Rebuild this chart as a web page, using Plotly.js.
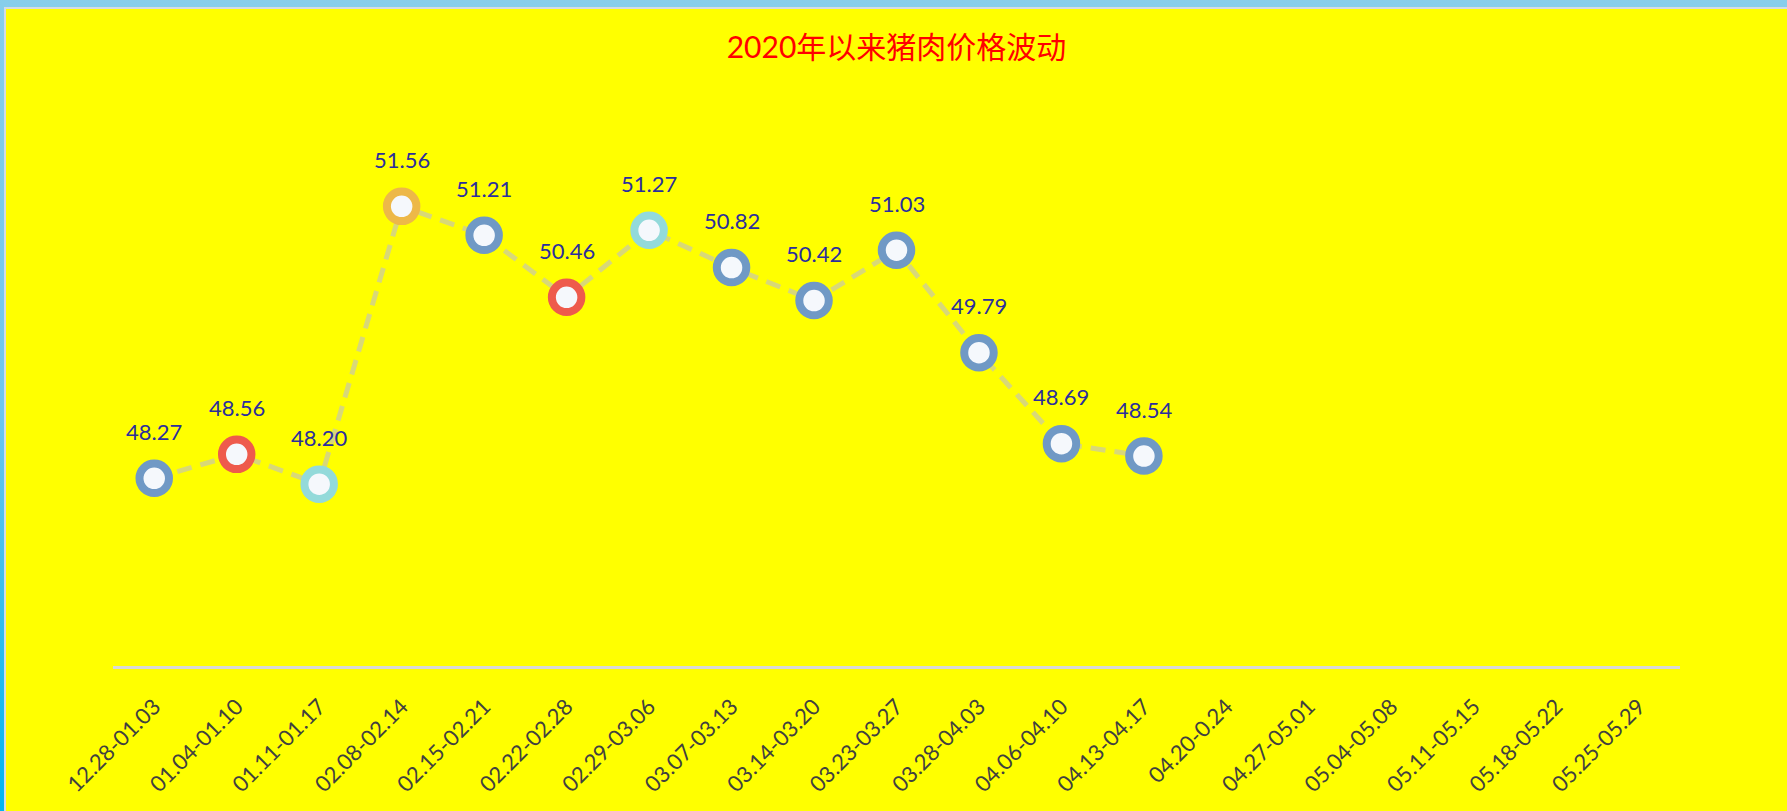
<!DOCTYPE html>
<html>
<head>
<meta charset="utf-8">
<script src="https://cdn.plot.ly/plotly-3.0.1.min.js"></script>
<style>
  html, body { margin: 0; padding: 0; width: 1787px; height: 811px; overflow: hidden; }
  body { background: linear-gradient(to bottom, #87CEEB 0%, #6FC6EE 50%, #00B4F0 100%); position: relative; }
  #chart {
    position: absolute; left: 4px; top: 7px;
    width: 1781px; height: 802px;
    border-top: 2px solid #D3DCE4; border-left: 2px solid #D3DCE4;
  }
</style>
</head>
<body>
<div id="chart"></div>
<script>
// week labels (19 weeks, only the first 13 have prices)
const weeks = [
  '12.28-01.03', '01.04-01.10', '01.11-01.17', '02.08-02.14', '02.15-02.21',
  '02.22-02.28', '02.29-03.06', '03.07-03.13', '03.14-03.20', '03.23-03.27',
  '03.28-04.03', '04.06-04.10', '04.13-04.17', '04.20-0.24', '04.27-05.01',
  '05.04-05.08', '05.11-05.15', '05.18-05.22', '05.25-05.29'
];
// pork price per week
const prices = [48.27, 48.56, 48.20, 51.56, 51.21, 50.46, 51.27, 50.82, 50.42, 51.03, 49.79, 48.69, 48.54];
const pointColors = ['#7099C5', '#EE5B4C', '#93DADA', '#EDB848', '#7099C5', '#EE5B4C', '#93DADA',
                     '#7099C5', '#7099C5', '#7099C5', '#7099C5', '#7099C5', '#7099C5'];

const xs = weeks.slice(0, prices.length);

const trace = {
  x: xs,
  y: prices,
  type: 'scatter',
  mode: 'lines+markers',
  line: { color: '#D8D878', width: 5, dash: '15px,9px' },
  marker: {
    size: 29.5,
    color: '#F5F8FC',
    line: { color: pointColors, width: 8 }
  },
  hoverinfo: 'x+y'
};

// value labels above each point
const labels = xs.map((w, i) => ({
  x: w, y: prices[i],
  text: prices[i].toFixed(2),
  showarrow: false,
  yshift: 47,
  font: { family: 'Lato, "Open Sans", sans-serif', size: 22, color: '#2B2E9E' }
}));

const layout = {
  width: 1781,
  height: 802,
  paper_bgcolor: '#FFFF00',
  plot_bgcolor: '#FFFF00',
  margin: { l: 107, r: 107, t: 161, b: 145, pad: 0 },
  title: {
    text: '2020年以来猪肉价格波动',
    font: { family: 'Lato, "Noto Sans CJK SC", sans-serif', size: 30, color: '#FF0000' },
    x: 0.5, xanchor: 'center',
    y: 0.952, yref: 'container', yanchor: 'middle'
  },
  xaxis: {
    type: 'category',
    categoryorder: 'array',
    categoryarray: weeks,
    tickvals: weeks,
    range: [-0.5, weeks.length - 0.5],
    showline: true,
    linecolor: '#D9D9D9',
    linewidth: 3,
    showgrid: false,
    zeroline: false,
    ticks: '',
    tickangle: -45,
    ticklabelstandoff: 16,
    tickfont: { family: 'Lato, "Open Sans", sans-serif', size: 22, color: '#404040' },
    fixedrange: true
  },
  yaxis: {
    range: [46, 52],
    showgrid: false,
    zeroline: false,
    showline: false,
    showticklabels: false,
    ticks: '',
    fixedrange: true
  },
  annotations: labels,
  showlegend: false
};

Plotly.newPlot('chart', [trace], layout, { displayModeBar: false, responsive: false });
</script>
</body>
</html>
